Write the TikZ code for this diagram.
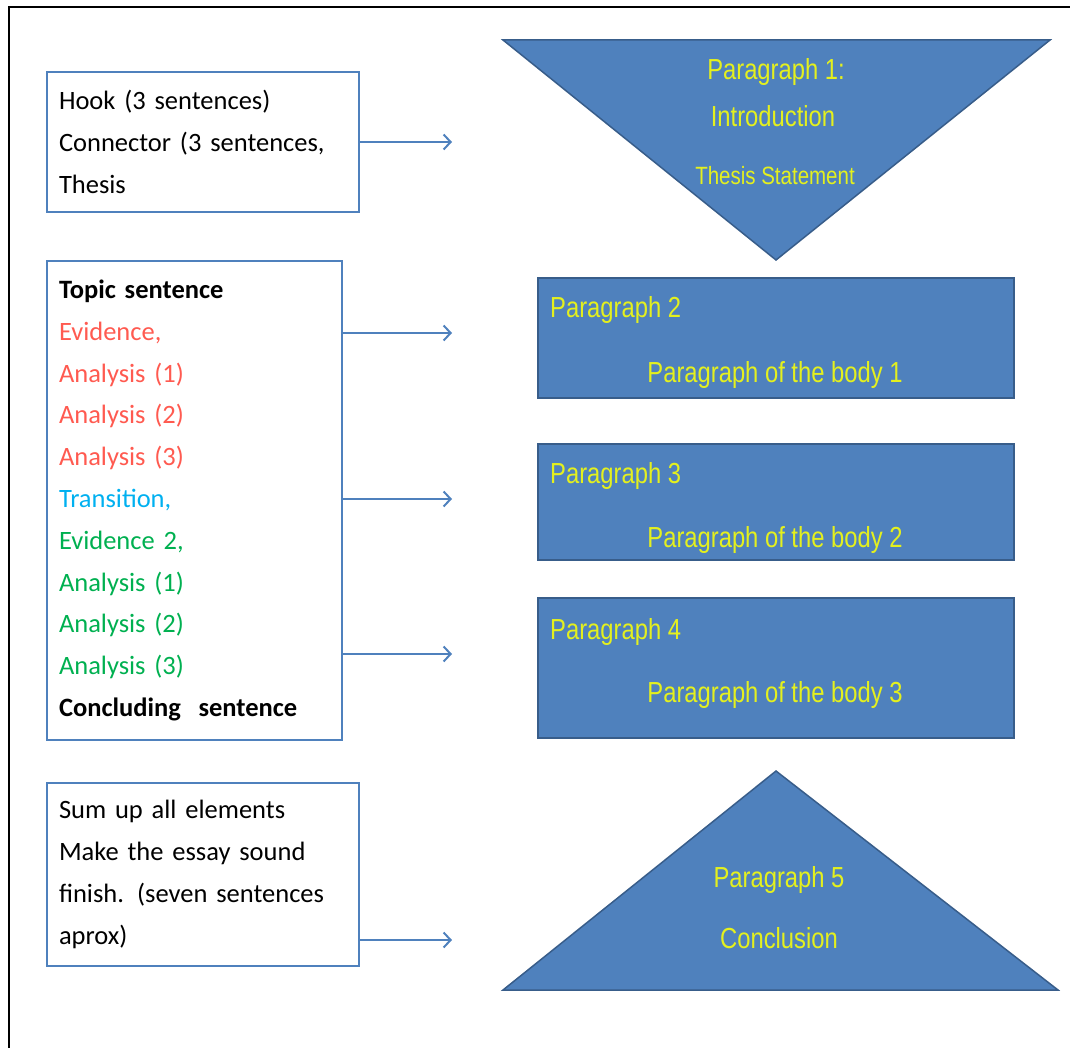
\documentclass[tikz,border=0pt]{standalone}
\usepackage{fontspec}
\setmainfont{Carlito}
\newfontfamily\narrowfont[FakeStretch=0.82]{Liberation Sans}
\usetikzlibrary{arrows.meta, positioning}

\definecolor{boxblue}{HTML}{4F81BD}
\definecolor{edgeblue}{HTML}{385D8A}
\definecolor{paryellow}{RGB}{228,240,30}
\definecolor{evred}{HTML}{FF5A50}
\definecolor{trblue}{HTML}{00B0F0}
\definecolor{evgreen}{HTML}{00B050}

\newcommand{\notefont}{\fontsize{26.5}{41.8}\selectfont\spaceskip=4.5pt plus 1pt\relax}

\tikzset{
  notebox/.style={draw=boxblue, line width=2pt, align=left, inner xsep=12pt, font=\notefont},
  parshape/.style={fill=boxblue, draw=edgeblue, line width=1.5pt},
  partext/.style={text=paryellow, inner sep=0pt, font=\narrowfont\fontsize{29}{34}\selectfont},
  link/.style={draw=boxblue, line width=2pt, -{Straight Barb[length=7pt,width=15pt]}},
}

\begin{document}
\begin{tikzpicture}[x=1pt, y=-1pt]
	\useasboundingbox (0,0) rectangle (1070,1048);
	\draw[line width=2.5pt] (9,1048) -- (9,7) -- (1070,7);

	% left column
	\node[notebox, text width=288pt, minimum height=140pt] (hook) at (203,142)
		{Hook (3 sentences)\\Connector (3 sentences,\\Thesis};
	\node[notebox, text width=271pt, minimum height=479pt] (topic) at (194.5,500.5)
		{\textbf{Topic sentence}\\
		 \textcolor{evred}{Evidence,}\\
		 \textcolor{evred}{Analysis (1)}\\
		 \textcolor{evred}{Analysis (2)}\\
		 \textcolor{evred}{Analysis (3)}\\
		 \textcolor{trblue}{Transition,}\\
		 \textcolor{evgreen}{Evidence 2,}\\
		 \textcolor{evgreen}{Analysis (1)}\\
		 \textcolor{evgreen}{Analysis (2)}\\
		 \textcolor{evgreen}{Analysis (3)}\\
		 \textbf{Concluding\ \ sentence}};
	\node[notebox, text width=288pt, minimum height=183pt] (sum) at (203,874.5)
		{Sum up all elements\\Make the essay sound\\finish. (seven sentences\\aprox)};

	% right column
	\draw[parshape] (503,40) -- (1050,40) -- (776,260) -- cycle;
	\node[partext] (intro1) at (776,72) {Paragraph 1:};
	\node[partext] (intro2) at (773,116) {Introduction};
	\node[partext, font=\narrowfont\fontsize{25}{30}\selectfont] (intro3) at (775,176) {Thesis Statement};

	\node[parshape, minimum width=476pt, minimum height=120pt] (p2) at (776,338) {};
	\node[partext, anchor=west] (p2a) at (550,310) {Paragraph 2};
	\node[partext] (p2b) at (775,375) {Paragraph of the body 1};

	\node[parshape, minimum width=476pt, minimum height=116pt] (p3) at (776,502) {};
	\node[partext, anchor=west] (p3a) at (550,476) {Paragraph 3};
	\node[partext] (p3b) at (775,540) {Paragraph of the body 2};

	\node[parshape, minimum width=476pt, minimum height=140pt] (p4) at (776,668) {};
	\node[partext, anchor=west] (p4a) at (550,632) {Paragraph 4};
	\node[partext] (p4b) at (775,695) {Paragraph of the body 3};

	\draw[parshape] (776,771) -- (1058,990) -- (503,990) -- cycle;
	\node[partext] (concl1) at (779,880) {Paragraph 5};
	\node[partext] (concl2) at (779,938) {Conclusion};

	% arrows
	\coordinate (e1) at (452,142);
	\coordinate (e2) at (452,333);
	\coordinate (e3) at (452,499);
	\coordinate (e4) at (452,654);
	\coordinate (e5) at (452,940);
	\draw[link] (hook.east) -- (e1);
	\draw[link] (topic.east |- e2) -- (e2);
	\draw[link] (topic.east |- e3) -- (e3);
	\draw[link] (topic.east |- e4) -- (e4);
	\draw[link] (sum.east |- e5) -- (e5);
\end{tikzpicture}
\end{document}
